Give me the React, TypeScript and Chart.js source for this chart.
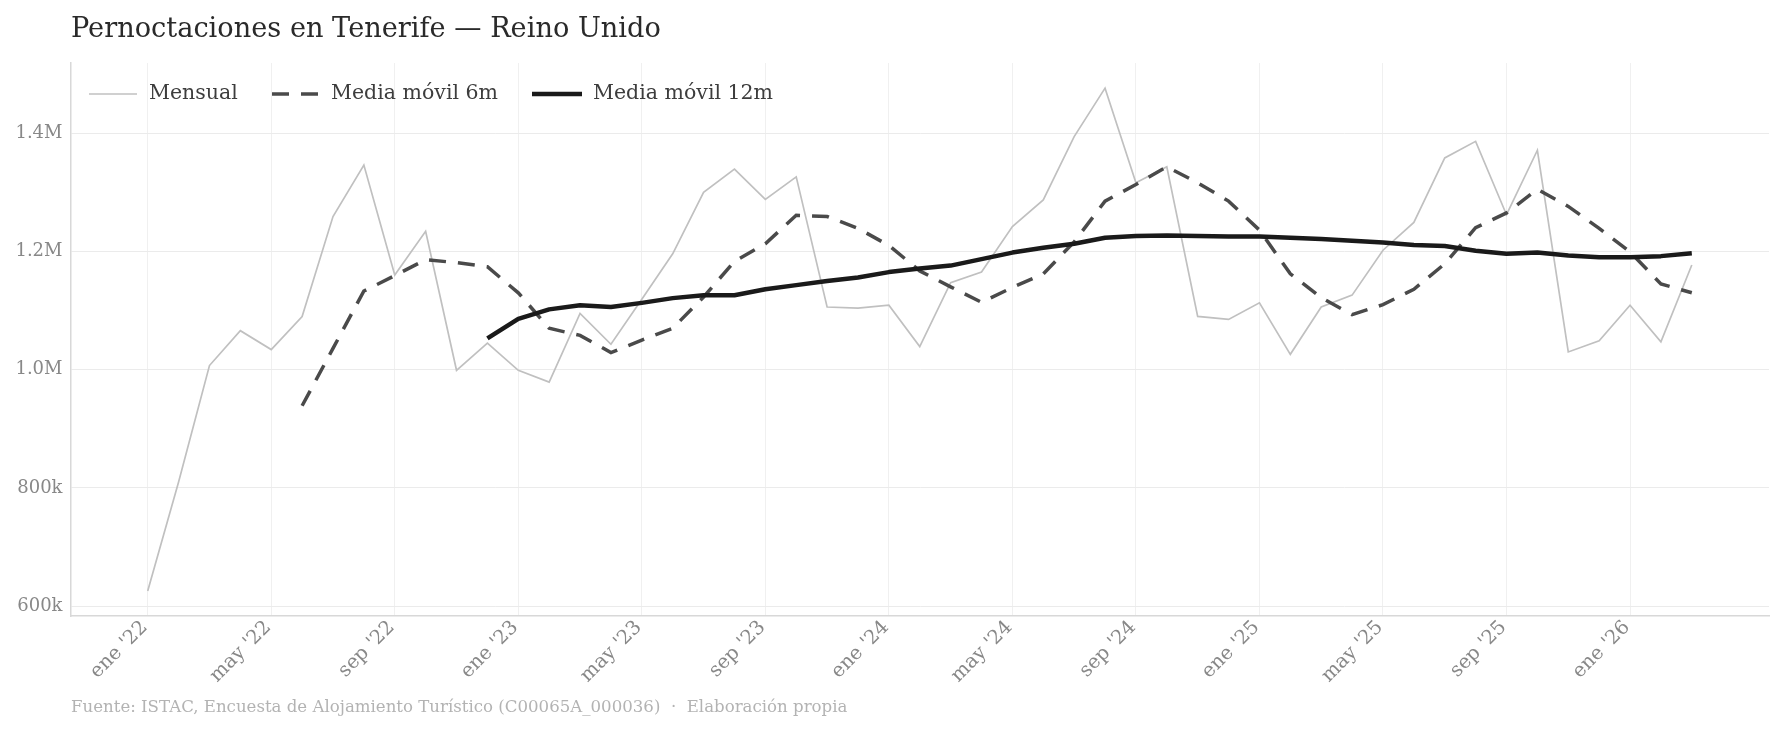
import React, { useEffect, useRef } from "react";
import { Chart, registerables } from "chart.js";

Chart.register(...registerables);

const MONTHS = ["ene", "feb", "mar", "abr", "may", "jun", "jul", "ago", "sep", "oct", "nov", "dic"];
const START_YEAR = 2022;
const TICK_STEP = 4;

// Monthly overnight stays (ene '22 .. mar '26)
const mensual = [
  626000, 810000, 1007000, 1066000, 1034000, 1090000, 1259000, 1346000, 1160000, 1234000, 999000, 1045000,
  999000, 979000, 1095000, 1043000, 1119000, 1196000, 1300000, 1339000, 1288000, 1326000, 1106000, 1104000,
  1109000, 1039000, 1147000, 1165000, 1242000, 1287000, 1394000, 1476000, 1316000, 1343000, 1090000, 1085000,
  1113000, 1026000, 1106000, 1126000, 1202000, 1249000, 1358000, 1386000, 1262000, 1371000, 1030000, 1049000,
  1109000, 1047000, 1177000,
];

// 6-month moving average, starts jun '22 (index 5)
const media6Start = 5;
const media6 = [
  939000, 1036000, 1133000, 1159000, 1186000, 1181000, 1174000, 1130000, 1070000, 1058000, 1029000, 1050000,
  1070000, 1123000, 1183000, 1213000, 1261000, 1259000, 1239000, 1210000, 1167000, 1140000, 1114000, 1139000,
  1162000, 1216000, 1285000, 1313000, 1343000, 1316000, 1285000, 1236000, 1162000, 1122000, 1093000, 1110000,
  1136000, 1179000, 1240000, 1265000, 1305000, 1276000, 1239000, 1199000, 1145000, 1130000,
];

// 12-month moving average, starts dic '22 (index 11)
const media12Start = 11;
const media12 = [
  1053000, 1086000, 1102000, 1109000, 1106000, 1113000, 1121000, 1126000, 1126000, 1136000, 1143000, 1150000,
  1156000, 1165000, 1171000, 1176000, 1187000, 1198000, 1206000, 1213000, 1223000, 1226000, 1227000, 1226000,
  1225000, 1225000, 1223000, 1221000, 1218000, 1215000, 1211000, 1209000, 1201000, 1196000, 1198000, 1193000,
  1190000, 1190000, 1192000, 1197000,
];

const yTicks = [600000, 800000, 1000000, 1200000, 1400000];

const TITLE = "Pernoctaciones en Tenerife — Reino Unido";
const SOURCE = "Fuente: ISTAC, Encuesta de Alojamiento Turístico (C00065A_000036)  ·  Elaboración propia";
const LEGEND_LABELS = ["Mensual", "Media móvil 6m", "Media móvil 12m"];

const FONT = '"DejaVu Serif", serif';

function monthLabel(i: number): string {
  const m = ((i % 12) + 12) % 12;
  const y = START_YEAR + Math.floor(i / 12);
  return `${MONTHS[m]} '${String(y).slice(2)}`;
}

function fmtY(v: number): string {
  if (v >= 1000000) return (v / 1000000).toFixed(1) + "M";
  return Math.round(v / 1000) + "k";
}

const toPoints = (arr: number[], start: number) => arr.map((v, i) => ({ x: start + i, y: v }));

const COLORS = { mensual: "#c0c0c0", m6: "#4a4a4a", m12: "#1a1a1a" };

const overlayPlugin = {
  id: "overlay",
  afterDraw(chart: any) {
    const ctx = chart.ctx as CanvasRenderingContext2D;
    ctx.save();
    // title
    ctx.fillStyle = "#2a2a2a";
    ctx.font = `27.2px ${FONT}`;
    ctx.textAlign = "left";
    ctx.textBaseline = "alphabetic";
    ctx.fillText(TITLE, 71, 37);
    // source
    ctx.fillStyle = "#b3b3b3";
    ctx.font = `16.6px ${FONT}`;
    ctx.textBaseline = "middle";
    ctx.fillText(SOURCE, 71, 708);
    // legend
    const ly = 94;
    const items = [
      { x1: 89, x2: 137, tx: 149, color: COLORS.mensual, w: 1.7, dash: [] as number[] },
      { x1: 272, x2: 318, tx: 331, color: COLORS.m6, w: 3.5, dash: [17, 12] },
      { x1: 532, x2: 582, tx: 593, color: COLORS.m12, w: 4.5, dash: [] as number[] },
    ];
    items.forEach((it, k) => {
      ctx.beginPath();
      ctx.strokeStyle = it.color;
      ctx.lineWidth = it.w;
      ctx.lineCap = "butt";
      ctx.setLineDash(it.dash);
      ctx.moveTo(it.x1, ly);
      ctx.lineTo(it.x2, ly);
      ctx.stroke();
      ctx.setLineDash([]);
      ctx.fillStyle = "#3d3d3d";
      ctx.font = `20.5px ${FONT}`;
      ctx.textBaseline = "middle";
      ctx.fillText(LEGEND_LABELS[k], it.tx, ly);
    });
    ctx.restore();
  },
};

export default function App() {
  const ref = useRef<HTMLCanvasElement | null>(null);
  useEffect(() => {
    if (!ref.current) return;
    const xTicks: number[] = [];
    for (let i = 0; i < mensual.length; i += TICK_STEP) xTicks.push(i);
    const chart = new Chart(ref.current, {
      type: "line",
      data: {
        datasets: [
          {
            label: LEGEND_LABELS[0],
            data: toPoints(mensual, 0),
            borderColor: COLORS.mensual,
            borderWidth: 1.7,
            pointRadius: 0,
            tension: 0,
            order: 3,
          },
          {
            label: LEGEND_LABELS[1],
            data: toPoints(media6, media6Start),
            borderColor: COLORS.m6,
            borderWidth: 3.5,
            borderDash: [17, 12],
            borderCapStyle: "butt",
            pointRadius: 0,
            tension: 0,
            order: 2,
          },
          {
            label: LEGEND_LABELS[2],
            data: toPoints(media12, media12Start),
            borderColor: COLORS.m12,
            borderWidth: 4.5,
            borderJoinStyle: "round",
            pointRadius: 0,
            tension: 0,
            order: 1,
          },
        ],
      },
      options: {
        animation: false,
        responsive: false,
        devicePixelRatio: 1,
        layout: { padding: { left: 0, top: 63, right: 15, bottom: 0 } },
        plugins: { legend: { display: false }, tooltip: { enabled: false }, title: { display: false } },
        scales: {
          x: {
            type: "linear",
            min: -2.5,
            max: 52.5,
            afterBuildTicks: (scale: any) => {
              scale.ticks = xTicks.map((v) => ({ value: v }));
            },
            afterFit: (scale: any) => {
              scale.height = 114;
            },
            ticks: {
              autoSkip: false,
              minRotation: 45,
              maxRotation: 45,
              padding: 0,
              labelOffset: -3,
              color: "#888888",
              font: { family: FONT, size: 19.5 },
              callback: (v: any) => monthLabel(Number(v)),
            },
            grid: { color: "#f0f0f0", lineWidth: 1, drawTicks: false },
            border: { display: true, color: "#d8d8d8", width: 1.5 },
          },
          y: {
            type: "linear",
            min: 583600,
            max: 1518500,
            afterBuildTicks: (scale: any) => {
              scale.ticks = yTicks.map((v) => ({ value: v }));
            },
            afterFit: (scale: any) => {
              scale.width = 70.5;
            },
            ticks: {
              padding: 8,
              color: "#888888",
              font: { family: FONT, size: 18 },
              callback: (v: any) => fmtY(Number(v)),
            },
            grid: { color: "#ebebeb", lineWidth: 1, drawTicks: false },
            border: { display: true, color: "#d8d8d8", width: 1.5 },
          },
        },
      },
      plugins: [overlayPlugin],
    } as any);
    return () => chart.destroy();
  }, []);
  return (
    <div style={{ position: "absolute", left: 0, top: 0, width: 1784, height: 730, background: "#fff" }}>
      <canvas ref={ref} width={1784} height={730} style={{ display: "block", width: 1784, height: 730 }} />
    </div>
  );
}
